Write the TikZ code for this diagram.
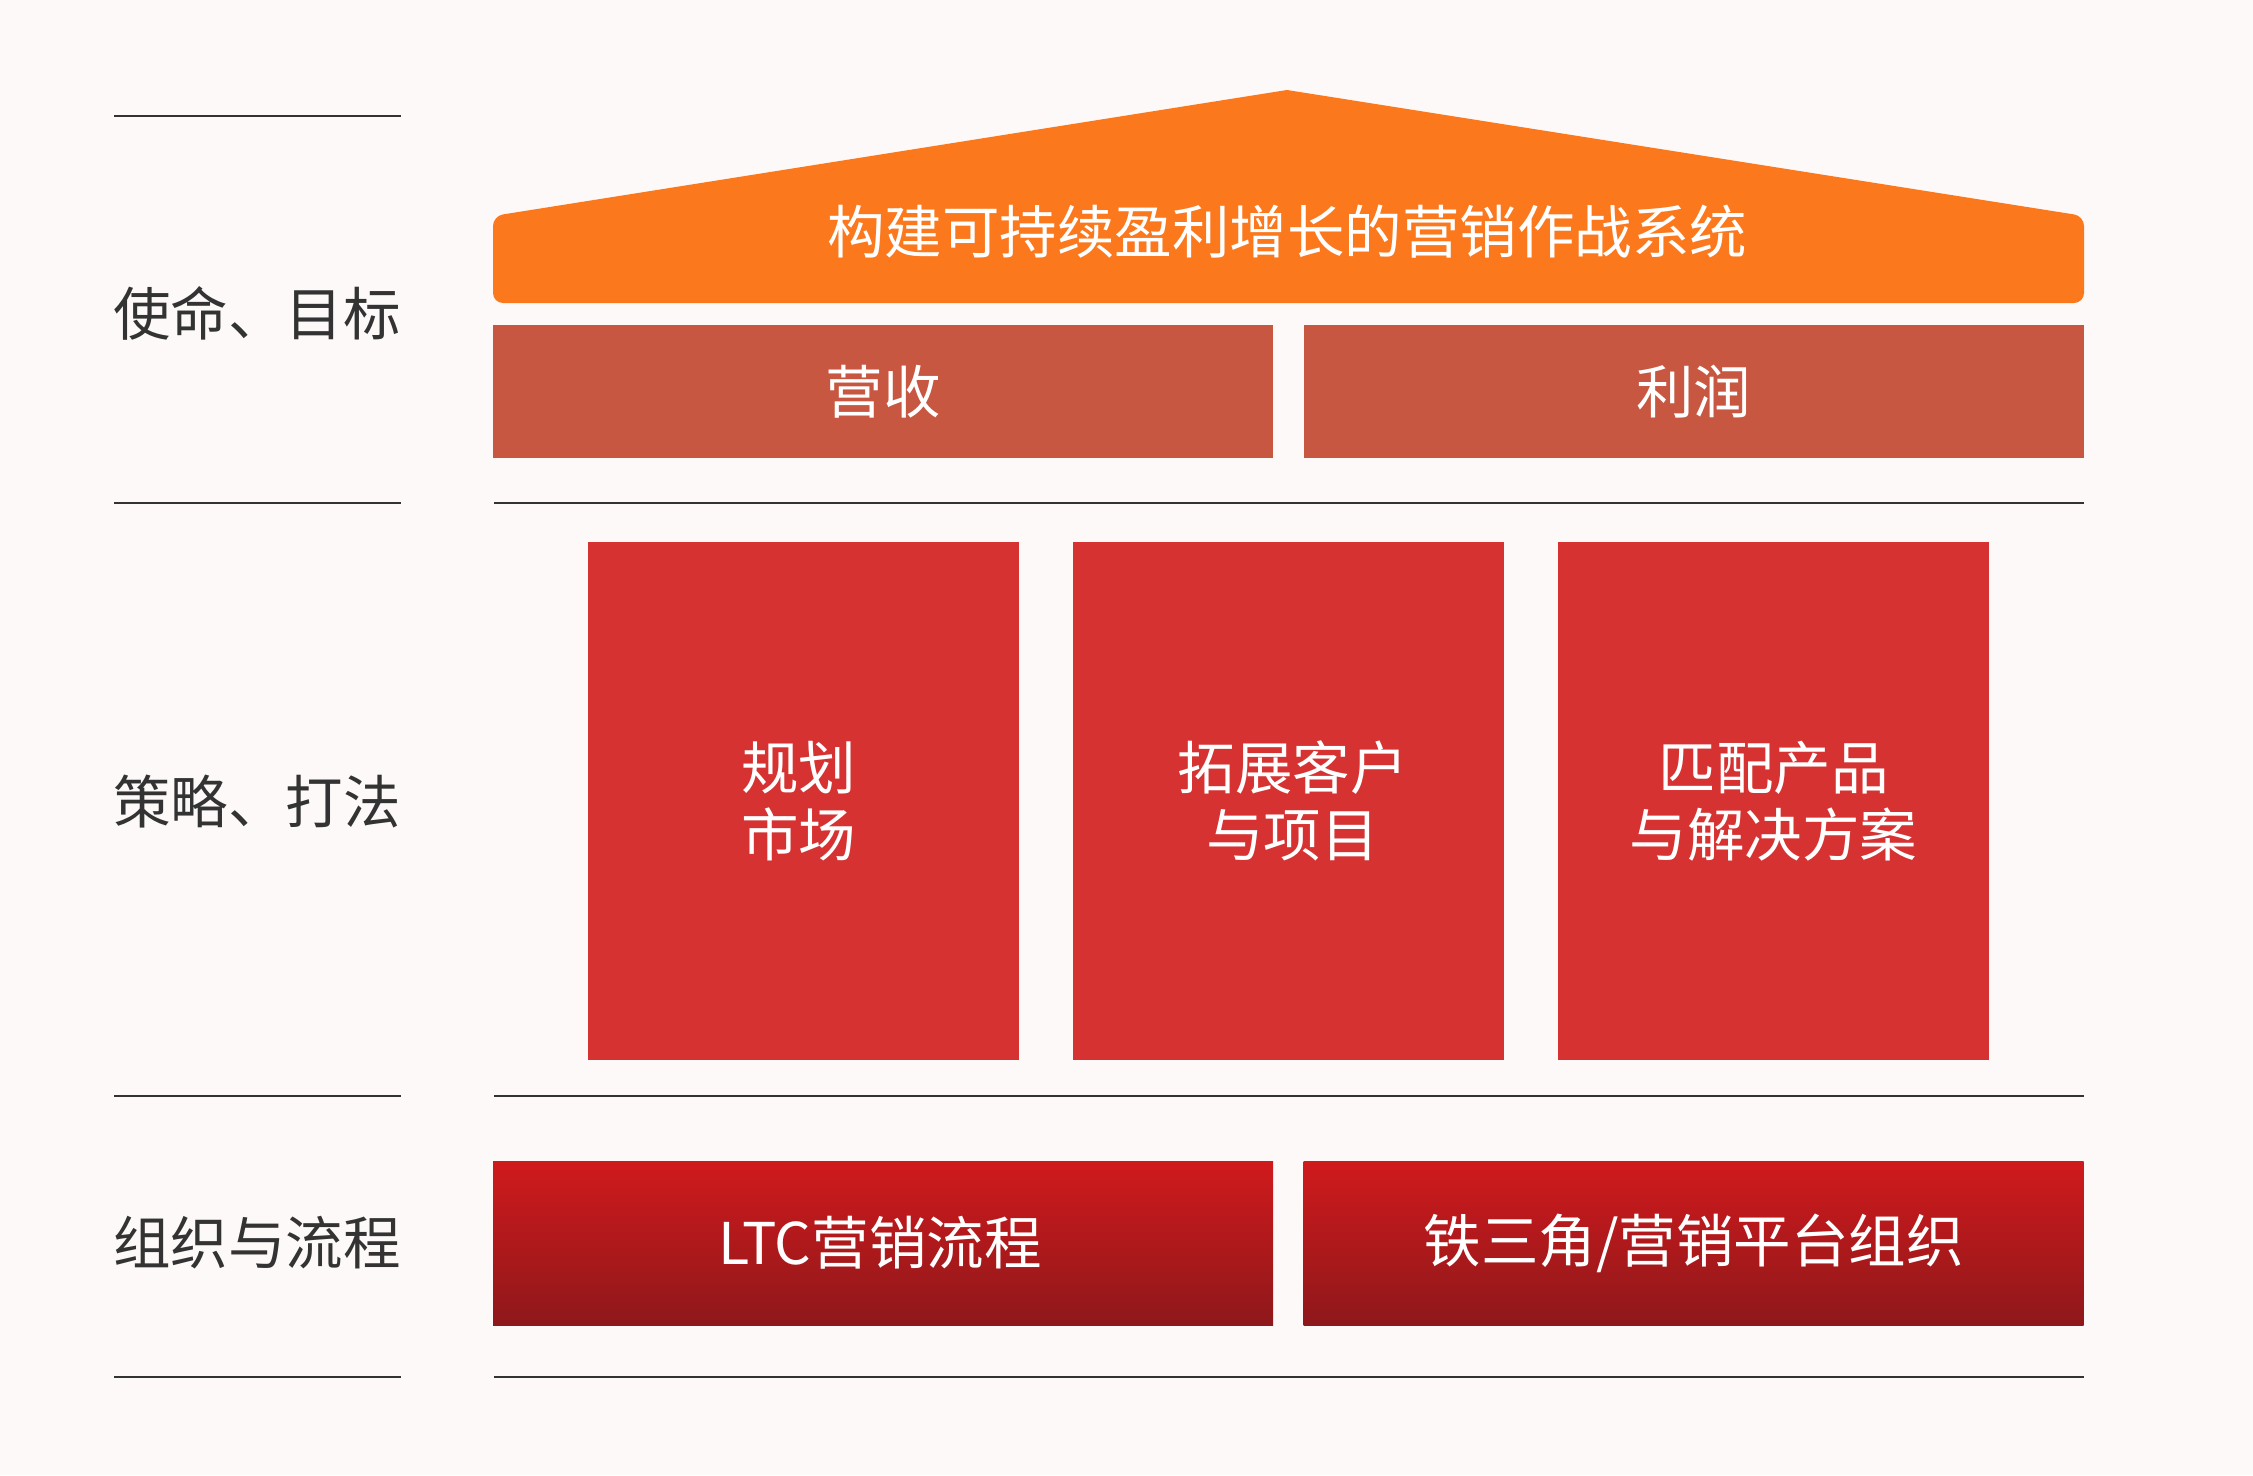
\documentclass[tikz,border=0pt]{standalone}
\usepackage{fontspec}
\setmainfont{Noto Sans CJK SC}
\newfontfamily\cjk{Noto Sans CJK SC}
\definecolor{bgc}{HTML}{FDF9F8}
\definecolor{roofc}{HTML}{FB781D}
\definecolor{goalc}{HTML}{C75740}
\definecolor{midc}{HTML}{D63232}
\definecolor{bottop}{HTML}{D01A1C}
\definecolor{botbot}{HTML}{8E181B}
\definecolor{txtc}{HTML}{333333}
\begin{document}
\begin{tikzpicture}[x=1pt,y=-1pt,
  lbl/.style={text=txtc,font=\cjk\fontsize{57.5}{67}\selectfont,anchor=center,inner sep=0pt},
  wtxt/.style={text=white,font=\cjk\fontsize{57.5}{67.5}\selectfont,align=center},
  goalbox/.style={fill=goalc,minimum width=780,minimum height=133,inner sep=0pt},
  midbox/.style={fill=midc,minimum width=431,minimum height=518,inner sep=0pt},
  botbox/.style={top color=bottop,bottom color=botbot,minimum width=780,minimum height=164,inner sep=0pt},
  sep/.style={draw=txtc,line width=2.2pt}]
\fill[bgc] (0,0) rectangle (2253,1475);
\useasboundingbox (0,0) rectangle (2253,1475);
% separator lines
\foreach \yy in {116,503,1096,1377}{
  \draw[sep] (114,\yy) -- (401,\yy);
}
\foreach \yy in {503,1096,1377}{
  \draw[sep] (494,\yy) -- (2084,\yy);
}
% roof
\fill[roofc] (1287,90) [rounded corners=10pt] -- (2084,216) -- (2084,303) -- (493,303) -- (493,216) [sharp corners] -- (1287,90) -- cycle;
\node[wtxt] (roof) at (1287,232) {构建可持续盈利增长的营销作战系统};
% goals
\node[goalbox] (rev) at (883,391.5) {};
\node[wtxt] at (rev.center) {营收};
\node[goalbox] (prof) at (1693.5,391.5) {};
\node[wtxt] at (prof.center) {利润};
% strategies
\node[midbox] (m1) at (803.5,801) {};
\node[wtxt] at ([xshift=-5pt]m1.center) {规划\\市场};
\node[midbox] (m2) at (1288.5,801) {};
\node[wtxt] at ([xshift=4pt]m2.center) {拓展客户\\与项目};
\node[midbox] (m3) at (1773.5,801) {};
\node[wtxt] at (m3.center) {匹配产品\\与解决方案};
% organisation
\node[botbox] (b1) at (883,1243) {};
\node[wtxt] at ([xshift=-3pt]b1.center) {LTC营销流程};
\node[botbox] (b2) at (1693.5,1243) {};
\node[wtxt] at (b2.center) {铁三角/营销平台组织};
% left labels
\node[lbl] (l1) at (257,313) {使命、目标};
\node[lbl] (l2) at (257,802) {策略、打法};
\node[lbl] (l3) at (257,1243) {组织与流程};
\end{tikzpicture}
\end{document}
